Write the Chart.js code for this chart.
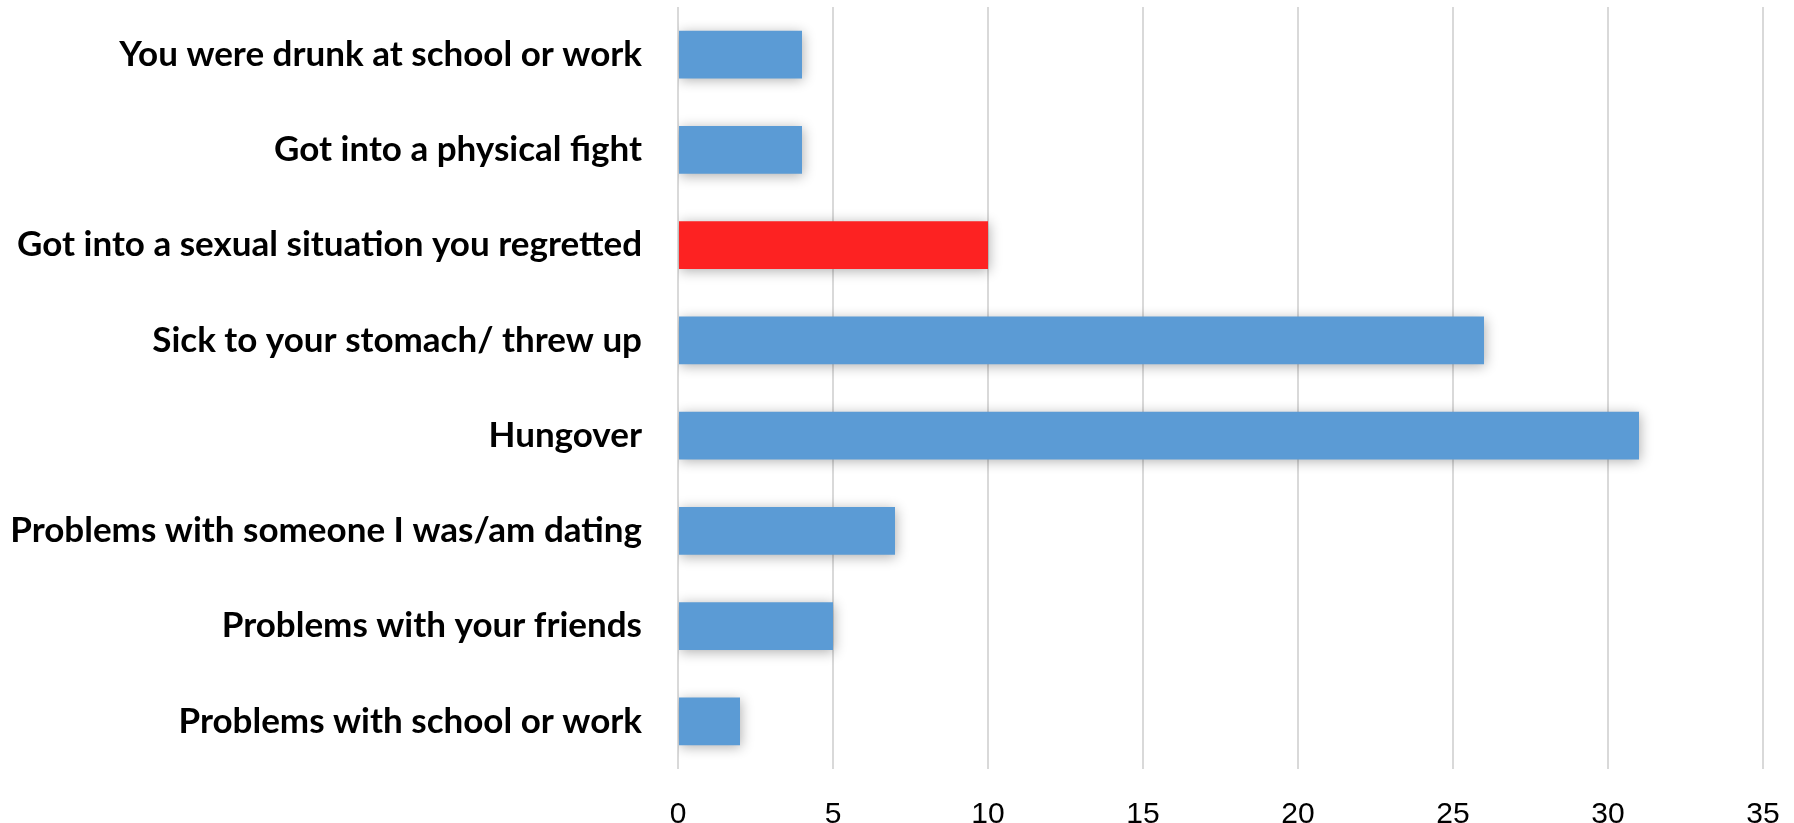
<!DOCTYPE html>
<html>
<head>
<meta charset="utf-8">
<script src="https://cdn.jsdelivr.net/npm/chart.js@4/dist/chart.umd.min.js"></script>
<style>
  html, body { margin: 0; padding: 0; background: #fff; }
  #wrap { width: 1794px; height: 823px; }
</style>
</head>
<body>
<div id="wrap"><canvas id="grafico"></canvas></div>
<script>
// --- DATOS ---
const categorias = [
    'You were drunk at school or work',
    'Got into a physical fight',
    'Got into a sexual situation you regretted',
    'Sick to your stomach/ threw up',
    'Hungover',
    'Problems with someone I was/am dating',
    'Problems with your friends',
    'Problems with school or work'
];
const valores = [4, 4, 10, 26, 31, 7, 5, 2];
const destacados = [false, false, true, false, false, false, false, false];
const ticksX = [0, 5, 10, 15, 20, 25, 30, 35];

const AZUL = '#5B9BD5';
const ROJO = '#FD2222';

// sombra suave detrás de las barras
const sombraBarras = {
    id: 'sombraBarras',
    beforeDatasetsDraw(chart) {
        const ctx = chart.ctx;
        ctx.save();
        ctx.shadowColor = 'rgba(0,0,0,0.32)';
        ctx.shadowBlur = 12;
        ctx.shadowOffsetX = 1;
        ctx.shadowOffsetY = 2;
    },
    afterDatasetsDraw(chart) {
        chart.ctx.restore();
    }
};

const ctx = document.getElementById('grafico').getContext('2d');
new Chart(ctx, {
    type: 'bar',
    data: {
        labels: categorias,
        datasets: [{
            data: valores,
            backgroundColor: destacados.map(d => d ? ROJO : AZUL),
            borderWidth: 0,
            categoryPercentage: 1,
            barPercentage: 0.5
        }]
    },
    options: {
        indexAxis: 'y',
        responsive: true,
        maintainAspectRatio: false,
        animation: false,
        layout: { padding: { top: 7, right: 31, left: 0, bottom: 0 } },
        plugins: {
            legend: { display: false },
            tooltip: { enabled: false }
        },
        scales: {
            x: {
                min: ticksX[0],
                max: ticksX[ticksX.length - 1],
                afterBuildTicks(scale) {
                    scale.ticks = ticksX.map(v => ({ value: v }));
                },
                afterFit(scale) {
                    scale.height = 54;
                    scale.paddingLeft = 0;
                    scale.paddingRight = 0;
                },
                grid: { color: '#D9D9D9', lineWidth: 2, drawTicks: false },
                border: { display: false },
                ticks: {
                    color: '#000',
                    padding: 28,
                    font: { family: '"Liberation Sans", Arial, sans-serif', size: 30 }
                }
            },
            y: {
                afterFit(scale) {
                    scale.width = 678;
                    scale.paddingTop = 0;
                    scale.paddingBottom = 0;
                },
                grid: { display: false, drawTicks: false },
                border: { display: false },
                ticks: {
                    color: '#000',
                    padding: 36,
                    font: { family: 'Lato, "DejaVu Sans Condensed", sans-serif', size: 35, weight: 'bold' }
                }
            }
        }
    },
    plugins: [sombraBarras]
});
</script>
</body>
</html>
